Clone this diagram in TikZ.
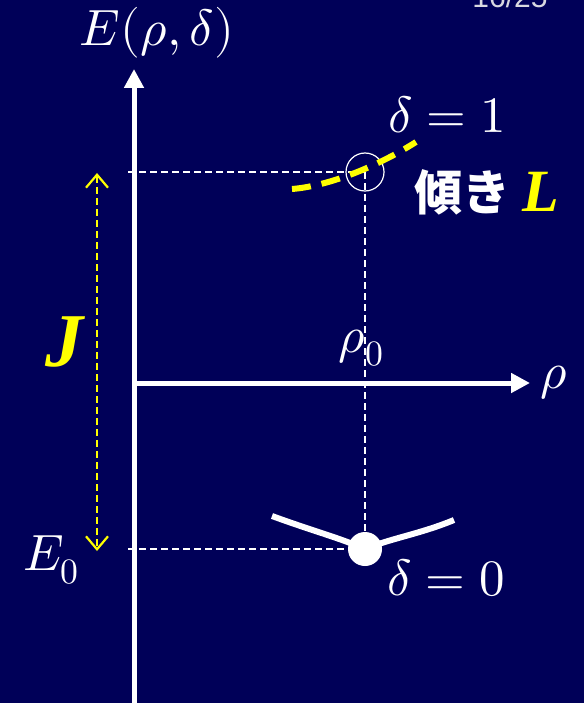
\documentclass[tikz,border=0pt]{standalone}
\usepackage{fontspec}
\usepackage{unicode-math}
\setmathfont{Latin Modern Math}
\usetikzlibrary{arrows.meta, positioning}
\newfontfamily\jpfont{Noto Sans CJK JP}
\newfontfamily\timesfont{Liberation Serif}
\newfontfamily\pagefont{Liberation Sans}
\definecolor{slidebg}{HTML}{000058}
\definecolor{hilite}{HTML}{FFFF00}
\definecolor{pagegray}{HTML}{D8D8E0}

\begin{document}
\begin{tikzpicture}[
  x=1pt, y=-1pt,
  font=\fontsize{51}{55}\selectfont,
  axis/.style={white, line width=5pt, -{Triangle[length=19pt, width=19pt]}},
  guide/.style={white, line width=1.8pt, dash pattern=on 7pt off 4pt},
  slope/.style={hilite, line width=6pt, dash pattern=on 19pt off 11pt},
  span/.style={hilite, line width=2.2pt, dash pattern=on 7pt off 4pt,
               {Straight Barb[length=13pt, width=22pt]}-{Straight Barb[length=13pt, width=22pt]}},
  lbl/.style={white, inner sep=0pt},
  bigletter/.style={hilite, inner sep=0pt, font=\timesfont\bfseries\itshape\fontsize{76}{80}\selectfont}
]
  % background and page frame
  \fill[slidebg] (0,0) rectangle (584,703);
  \useasboundingbox (0,0) rectangle (584,703);
  \node[anchor=base, text=pagegray, font=\pagefont\fontsize{30}{32}\selectfont] (page) at (510,8) {16/25};

  % axes
  \coordinate (origin) at (134,383);
  \coordinate (ybot) at (134,712);
  \coordinate (ytop) at (134,69);
  \coordinate (xend) at (530,383);
  \draw[axis] (ybot) -- (ytop);
  \draw[axis] (origin) -- (xend);
  \node[lbl] (elab) at (157,33) {$E(\rho,\delta)$};
  \node[lbl, right=10pt of xend] (rholab) {$\rho$};

  % points on the two curves
  \coordinate (top) at (365,172);
  \coordinate (low) at (365,549);
  \coordinate (ltop) at (128,172);
  \coordinate (llow) at (128,549);
  \node[draw=white, line width=1.2pt, circle, minimum size=38pt, inner sep=0pt] (ring) at (top) {};
  \node[fill=white, circle, minimum size=34pt, inner sep=0pt] (dot) at (low) {};

  % guides
  \draw[guide] (ltop) -- (top);
  \draw[guide] (llow) -- (dot.west);
  \draw[guide] (top) -- (dot.north);
  \node[lbl] (rho0) at (361,348) {$\rho_0$};

  % curves
  \draw[slope] (292,189) .. controls (330,186) and (380,165) .. (416,142);
  \draw[white, line width=6pt] (272,516) .. controls (310,530) and (340,538) .. (low)
                               .. controls (392,538) and (420,534) .. (454,520);
  \node[lbl] (d1) at (447,115) {$\delta=1$};
  \node[lbl] (d0) at (446,578) {$\delta=0$};

  % slope and gap labels
  \node[lbl, font=\jpfont\bfseries\fontsize{48}{52}\selectfont] (tilt) at (462,192) {傾き};
  \node[bigletter, font=\timesfont\bfseries\itshape\fontsize{60}{64}\selectfont, right=12pt of tilt] (lslope) {L};
  \coordinate (jtop) at (97,173);
  \coordinate (jbot) at (97,551);
  \draw[span] (jtop) -- (jbot);
  \node[bigletter] (jgap) at (64,342) {J};
  \node[lbl] (e0) at (51,560) {$E_0$};
\end{tikzpicture}
\end{document}
